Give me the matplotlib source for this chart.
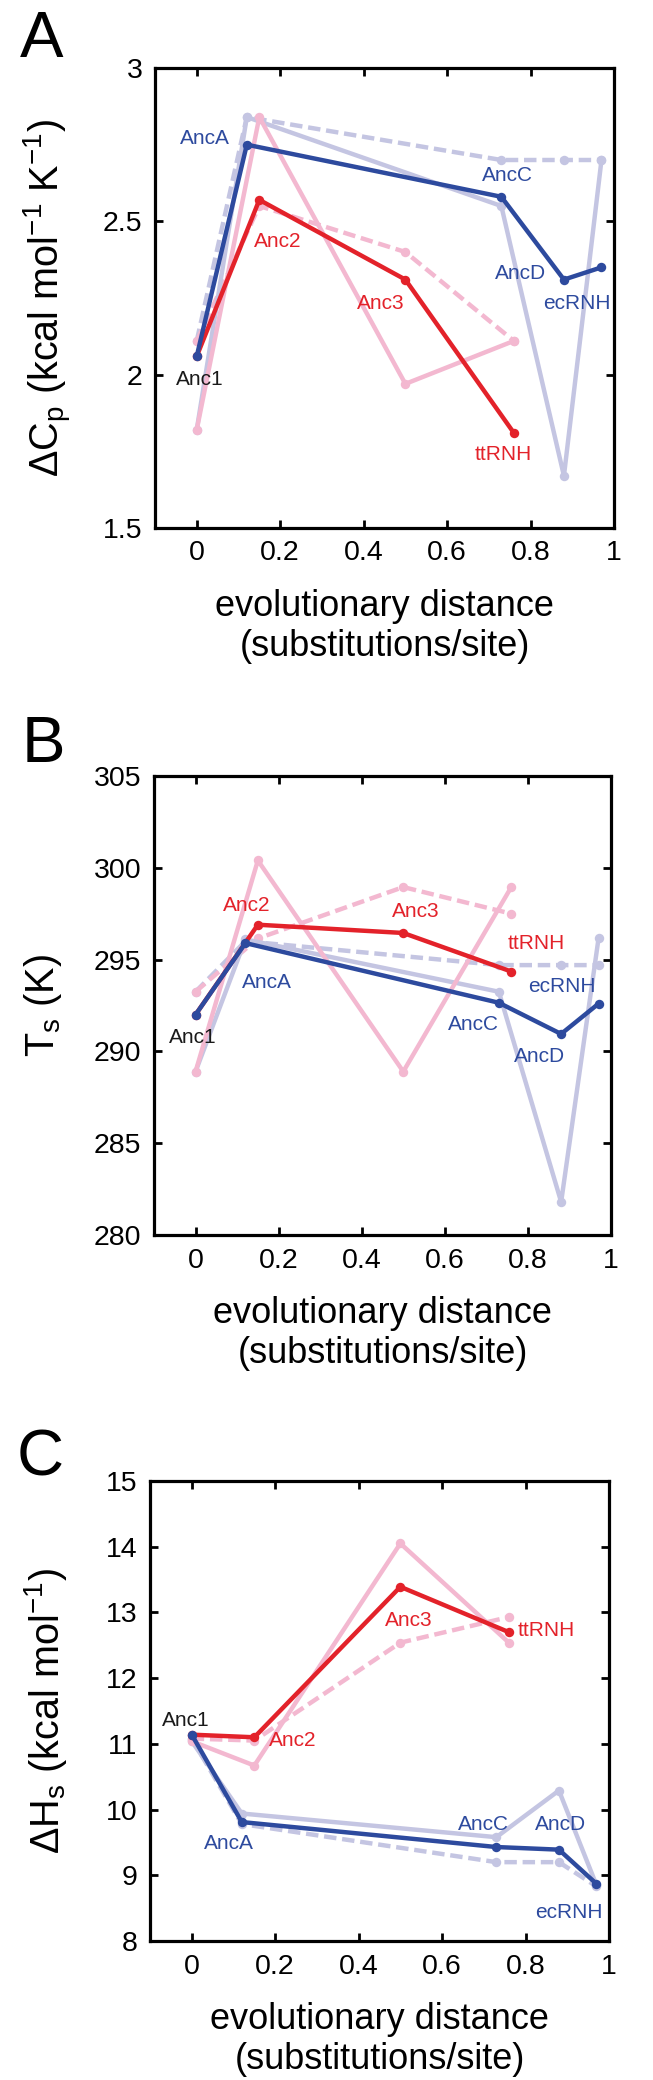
import matplotlib
matplotlib.use("Agg")
import matplotlib.pyplot as plt

plt.rcParams['font.family'] = ['Liberation Sans', 'DejaVu Sans']
plt.rcParams['mathtext.fontset'] = 'custom'
plt.rcParams['mathtext.rm'] = 'Liberation Sans'
plt.rcParams['mathtext.it'] = 'Liberation Sans'
plt.rcParams['mathtext.bf'] = 'Liberation Sans:bold'

# ---------------- data ----------------
names_thermo = ['Anc1', 'Anc2', 'Anc3', 'ttRNH']
x_thermo = [0.0, 0.15, 0.50, 0.76]
names_meso = ['Anc1', 'AncA', 'AncC', 'AncD', 'ecRNH']
x_meso = [0.0, 0.12, 0.73, 0.88, 0.97]

# Panel A: heat capacity change
cp_red = [2.06, 2.57, 2.31, 1.81]
cp_blue = [2.06, 2.75, 2.58, 2.31, 2.35]
cp_pink = [1.82, 2.84, 1.97, 2.11]
cp_pink_dash = [2.11, 2.55, 2.40, 2.11]
cp_lav = [1.82, 2.84, 2.55, 1.67, 2.70]
cp_lav_dash = [2.11, 2.84, 2.70, 2.70, 2.70]

# Panel B: temperature of maximum stability
ts_red = [292.0, 296.9, 296.45, 294.35]
ts_blue = [292.0, 295.9, 292.65, 290.95, 292.6]
ts_pink = [288.9, 300.4, 288.9, 298.95]
ts_pink_dash = [293.25, 296.15, 298.95, 297.5]
ts_lav = [288.9, 296.1, 293.25, 281.8, 296.15]
ts_lav_dash = [293.25, 296.0, 294.7, 294.7, 294.7]

# Panel C: enthalpy at Ts
hs_red = [11.14, 11.10, 13.39, 12.70]
hs_blue = [11.14, 9.81, 9.43, 9.39, 8.87]
hs_pink = [11.04, 10.67, 14.05, 12.54]
hs_pink_dash = [11.08, 11.05, 12.54, 12.93]
hs_lav = [11.04, 9.94, 9.58, 10.29, 8.85]
hs_lav_dash = [11.08, 9.78, 9.20, 9.20, 8.83]

x_ticks = [0, 0.2, 0.4, 0.6, 0.8, 1.0]
x_ticklabels = ['0', '0.2', '0.4', '0.6', '0.8', '1']
cp_ticks = [1.5, 2, 2.5, 3]
cp_ticklabels = ['1.5', '2', '2.5', '3']
ts_ticks = [280, 285, 290, 295, 300, 305]
ts_ticklabels = ['280', '285', '290', '295', '300', '305']
hs_ticks = [8, 9, 10, 11, 12, 13, 14, 15]
hs_ticklabels = ['8', '9', '10', '11', '12', '13', '14', '15']

# label annotations: (text, x, y, colour key)
labels_A = [('AncA', 0.02, 2.77, 'b'), ('Anc1', 0.007, 1.985, 'k'),
            ('Anc2', 0.193, 2.433, 'r'), ('Anc3', 0.44, 2.233, 'r'),
            ('AncC', 0.744, 2.651, 'b'), ('AncD', 0.775, 2.329, 'b'),
            ('ecRNH', 0.91, 2.233, 'b'), ('ttRNH', 0.735, 1.74, 'r')]
labels_B = [('Anc2', 0.122, 297.96, 'r'), ('Anc3', 0.529, 297.6, 'r'),
            ('ttRNH', 0.819, 295.9, 'r'), ('AncA', 0.172, 293.75, 'b'),
            ('ecRNH', 0.882, 293.55, 'b'), ('Anc1', -0.006, 290.73, 'k'),
            ('AncC', 0.668, 291.45, 'b'), ('AncD', 0.828, 289.73, 'b')]
labels_C = [('Anc1', -0.014, 11.35, 'k'), ('Anc2', 0.243, 11.05, 'r'),
            ('Anc3', 0.52, 12.88, 'r'), ('ttRNH', 0.849, 12.72, 'r'),
            ('AncA', 0.09, 9.48, 'b'), ('AncC', 0.699, 9.78, 'b'),
            ('AncD', 0.883, 9.78, 'b'), ('ecRNH', 0.903, 8.44, 'b')]

RED = '#E3222A'
BLUE = '#2D4A9E'
PINK = '#F3B8D0'
LAV = '#C4C5E2'
TXT = {'r': RED, 'b': BLUE, 'k': '#1a1a1a'}

W, H = 653, 2080
fig = plt.figure(figsize=(W / 100, H / 100), dpi=100)


def px_axes(l, r, t, b):
    return fig.add_axes([l / W, 1 - b / H, (r - l) / W, (b - t) / H])


panels = [
    dict(box=(155, 614, 68, 528), ylim=(1.5, 3.0), yt=cp_ticks, ytl=cp_ticklabels,
         red=cp_red, blue=cp_blue, pink=cp_pink, pinkd=cp_pink_dash,
         lav=cp_lav, lavd=cp_lav_dash, labels=labels_A, letter='A',
         letter_pos=(20, 57),
         ylabel='$\\Delta\\mathrm{C}_{\\mathrm{p}}$ (kcal mol$^{-1}$ K$^{-1}$)'),
    dict(box=(154, 611, 776, 1235), ylim=(280, 305), yt=ts_ticks, ytl=ts_ticklabels,
         red=ts_red, blue=ts_blue, pink=ts_pink, pinkd=ts_pink_dash,
         lav=ts_lav, lavd=ts_lav_dash, labels=labels_B, letter='B',
         letter_pos=(22, 762),
         ylabel='$\\mathrm{T}_{\\mathrm{s}}$ (K)'),
    dict(box=(150, 609, 1481, 1941), ylim=(8, 15), yt=hs_ticks, ytl=hs_ticklabels,
         red=hs_red, blue=hs_blue, pink=hs_pink, pinkd=hs_pink_dash,
         lav=hs_lav, lavd=hs_lav_dash, labels=labels_C, letter='C',
         letter_pos=(17, 1475),
         ylabel='$\\Delta\\mathrm{H}_{\\mathrm{s}}$ (kcal mol$^{-1}$)'),
]

LW = 3.2
MS = 6.8
dash = (2.8, 1.3)

for p in panels:
    l, r, t, b = p['box']
    ax = px_axes(l, r, t, b)
    ax.set_xlim(-0.1, 1.0)
    ax.set_ylim(*p['ylim'])

    ax.plot(x_meso, p['lavd'], color=LAV, lw=LW, ls='--', dashes=dash,
            marker='o', ms=MS, mew=0, zorder=2)
    ax.plot(x_thermo, p['pinkd'], color=PINK, lw=LW, ls='--', dashes=dash,
            marker='o', ms=MS, mew=0, zorder=2)
    ax.plot(x_meso, p['lav'], color=LAV, lw=LW, marker='o', ms=MS, mew=0, zorder=2)
    ax.plot(x_thermo, p['pink'], color=PINK, lw=LW, marker='o', ms=MS, mew=0, zorder=2)
    ax.plot(x_thermo, p['red'], color=RED, lw=LW, marker='o', ms=MS, mew=0, zorder=3)
    ax.plot(x_meso, p['blue'], color=BLUE, lw=LW, marker='o', ms=MS, mew=0, zorder=4)

    for txt, tx, ty, c in p['labels']:
        ax.text(tx, ty, txt, color=TXT[c], fontsize=15, ha='center', va='center',
                zorder=5)

    ax.set_xticks(x_ticks)
    ax.set_xticklabels(x_ticklabels)
    ax.set_yticks(p['yt'])
    ax.set_yticklabels(p['ytl'])
    ax.tick_params(direction='in', top=True, right=True, length=6, width=2,
                   labelsize=20.5, colors='black')
    ax.tick_params(axis='x', pad=9)
    ax.tick_params(axis='y', pad=9)
    for s in ax.spines.values():
        s.set_linewidth(2.3)

    # axis labels
    xc = (l + r) / 2 / W
    fig.text(xc, 1 - (b + 88) / H, 'evolutionary distance', fontsize=26,
             ha='center', va='baseline')
    fig.text(xc, 1 - (b + 128) / H, '(substitutions/site)', fontsize=26,
             ha='center', va='baseline')
    fig.text(22 / W, 1 - (t + b) / 2 / H, p['ylabel'], fontsize=28.5,
             rotation=90, ha='left', va='center')
    lx, ly = p['letter_pos']
    fig.text(lx / W, 1 - ly / H, p['letter'], fontsize=47, ha='left',
             va='baseline')

fig.savefig('out.png', dpi=100)
